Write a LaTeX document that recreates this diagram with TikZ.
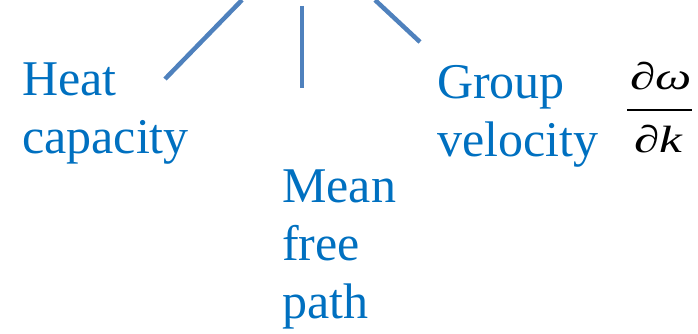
\documentclass[tikz,border=0pt]{standalone}
\usepackage{fontspec}
\setmainfont{Liberation Serif}
\definecolor{txtblue}{HTML}{0070C0}
\definecolor{lineblue}{HTML}{4F81BD}
\begin{document}
\begin{tikzpicture}[x=1pt,y=-1pt,
  lbl/.style={text=txtblue, font=\fontsize{50}{58}\selectfont, align=left, inner sep=0pt, anchor=base west},
  branch/.style={draw=lineblue, line width=4.5pt},
  fracpart/.style={font=\fontsize{38}{40}\selectfont, inner sep=0pt, anchor=base}]
\useasboundingbox (0,0) rectangle (698,334);
\begin{scope}
\clip (0,0) rectangle (698,334);
\coordinate (lt) at (242,0);
\coordinate (lb) at (165,79);
\coordinate (mt) at (302,6);
\coordinate (mb) at (302,88);
\coordinate (rt) at (375,0);
\coordinate (rb) at (420,42);
\draw[branch] (lt) -- (lb);
\draw[branch] (mt) -- (mb);
\draw[branch] (rt) -- (rb);
\end{scope}
\node[lbl] (heat) at (22,153) {Heat\\capacity};
\node[lbl] (mfp) at (282,318) {Mean\\free\\path};
\node[lbl] (gv) at (437,156.5) {Group\\velocity};
\node[fracpart] (num) at (661,90) {\scalebox{1.35}[1]{∂\textit{ω}}};
\coordinate (barl) at (627,110);
\coordinate (barr) at (692,110);
\draw[line width=1.6pt] (barl) -- (barr);
\node[fracpart] (den) at (659,152) {\scalebox{1.35}[1]{∂\textit{k}}};
\end{tikzpicture}
\end{document}
